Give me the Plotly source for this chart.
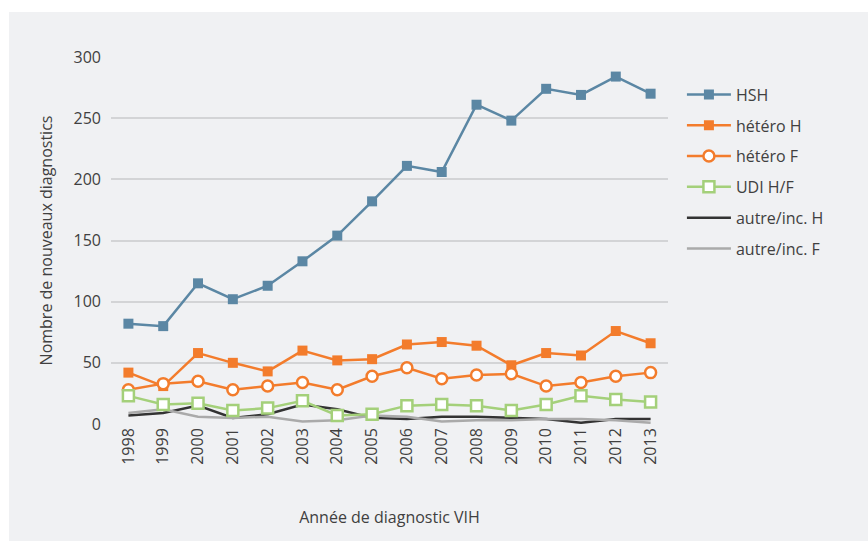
import plotly.graph_objects as go

years = list(range(1998, 2014))
hsh = [82, 80, 115, 102, 113, 133, 154, 182, 211, 206, 261, 248, 274, 269, 284, 270]
hetero_h = [42, 31, 58, 50, 43, 60, 52, 53, 65, 67, 64, 48, 58, 56, 76, 66]
hetero_f = [28, 33, 35, 28, 31, 34, 28, 39, 46, 37, 40, 41, 31, 34, 39, 42]
udi = [23, 16, 17, 11, 13, 19, 7, 8, 15, 16, 15, 11, 16, 23, 20, 18]
autre_h = [7, 9, 15, 5, 8, 16, 12, 5, 4, 6, 6, 5, 4, 1, 4, 4]
autre_f = [9, 12, 6, 5, 6, 2, 3, 7, 6, 2, 3, 3, 4, 4, 3, 1]

blue = "#5b87a4"
orange = "#f37c2c"
green = "#a4d07a"
dark = "#333333"
grey = "#aaaaaa"

series = [
    ("HSH", hsh, dict(color=blue, width=2.5), dict(symbol="square", size=10, color=blue)),
    ("hétéro H", hetero_h, dict(color=orange, width=2.5), dict(symbol="square", size=10, color=orange)),
    ("hétéro F", hetero_f, dict(color=orange, width=2.5),
     dict(symbol="circle", size=11, color="white", line=dict(color=orange, width=2.5))),
    ("UDI H/F", udi, dict(color=green, width=2.5),
     dict(symbol="square", size=11, color="white", line=dict(color=green, width=2.5))),
    ("autre/inc. H", autre_h, dict(color=dark, width=2.5), None),
    ("autre/inc. F", autre_f, dict(color=grey, width=2.5), None),
]

fig = go.Figure()
for i, (name, vals, line, marker) in enumerate(series):
    kw = dict(x=years, y=vals, name=name, line=line, legendgroup=f"g{i}",
              legendrank=i + 1, cliponaxis=False)
    if marker:
        kw.update(mode="lines+markers", marker=marker)
    else:
        kw.update(mode="lines")
    fig.add_trace(go.Scatter(**kw))

# draw the plain lines underneath the marker series
fig.data = tuple(list(fig.data[4:]) + list(fig.data[:4]))

font = "Open Sans, Noto Sans, sans-serif"
txt = "#404040"

fig.update_layout(
    width=868, height=542,
    margin=dict(l=111, r=200, t=57, b=118),
    paper_bgcolor="white",
    plot_bgcolor="rgba(0,0,0,0)",
    font=dict(family=font, color=txt, size=16),
    shapes=[dict(type="rect", xref="paper", yref="paper",
                 x0=(9 - 111) / 557, x1=(868 - 111) / 557,
                 y0=(424 - 541) / 367, y1=(424 - 12) / 367,
                 fillcolor="#f0f1f3", line=dict(width=0), layer="below")],
    xaxis=dict(range=[1997.5, 2013.5], tickmode="array", tickvals=years,
               ticktext=[str(y) for y in years], tickangle=-90,
               showgrid=False, zeroline=False, showline=False,
               tickfont=dict(size=16, color=txt),
               title=dict(text="Année de diagnostic VIH", standoff=48,
                          font=dict(size=16, color=txt))),
    yaxis=dict(range=[0, 300], tickvals=[0, 50, 100, 150, 200, 250, 300],
               showgrid=True, gridcolor="#d3d4d6", gridwidth=1.5,
               zeroline=False, showline=False, ticklabelstandoff=9,
               tickfont=dict(size=16, color=txt),
               title=dict(text="Nombre de nouveaux diagnostics", standoff=16,
                          font=dict(size=16, color=txt))),
    legend=dict(x=1.025, y=0.944, xanchor="left", yanchor="top",
                font=dict(size=16, color=txt), tracegroupgap=7,
                bgcolor="rgba(0,0,0,0)", itemwidth=44, traceorder="grouped"),
)

fig.write_html("out.html", config={"displayModeBar": False},
               post_script="document.body.style.margin='0';")
